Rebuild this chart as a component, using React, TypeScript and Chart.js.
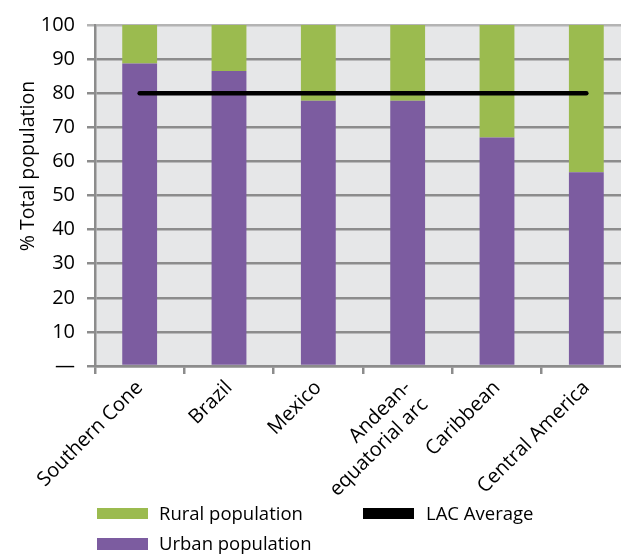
import React, { useEffect, useRef } from 'react';
import { Chart, registerables } from 'chart.js';

Chart.register(...registerables);

// Regions of Latin America and the Caribbean
const regions: (string | string[])[] = [
  'Southern Cone',
  'Brazil',
  'Mexico',
  ['Andean-', 'equatorial arc'],
  'Caribbean',
  'Central America',
];

// Share of total population (%)
const urbanShare = [88.7, 86.5, 77.8, 77.8, 67.0, 56.8];
const ruralShare = [11.3, 13.5, 22.2, 22.2, 33.0, 43.2];
const lacAverage = [80, 80, 80, 80, 80, 80];

const Y_TITLE = '% Total population';

const FONT = '"Open Sans", "Noto Sans", sans-serif';
const GREEN = '#9bbb4f';
const PURPLE = '#7c5ca0';
const GRID = '#8c8c8c';

// Fill the plotting area with a light grey panel
const panelBackground = {
  id: 'panelBackground',
  beforeDraw(chart: Chart) {
    const { ctx, chartArea } = chart;
    if (!chartArea) return;
    ctx.save();
    ctx.fillStyle = '#e6e7e8';
    ctx.fillRect(chartArea.left, chartArea.top, chartArea.right - chartArea.left, chartArea.bottom - chartArea.top);
    ctx.restore();
  },
};

// Vertical axis title, set a little above the middle of the axis
const yAxisTitle = {
  id: 'yAxisTitle',
  afterDraw(chart: Chart) {
    const { ctx } = chart;
    ctx.save();
    ctx.translate(34, 166);
    ctx.rotate(-Math.PI / 2);
    ctx.font = `19.5px ${FONT}`;
    ctx.fillStyle = '#000000';
    ctx.textAlign = 'center';
    ctx.textBaseline = 'alphabetic';
    ctx.fillText(Y_TITLE, 0, 0);
    ctx.restore();
  },
};

function PopulationChart() {
  const canvasRef = useRef<HTMLCanvasElement | null>(null);

  useEffect(() => {
    if (!canvasRef.current) return;
    const chart = new Chart(canvasRef.current, {
      type: 'bar',
      data: {
        labels: regions,
        datasets: [
          {
            type: 'line',
            label: 'LAC Average',
            data: lacAverage,
            borderColor: '#000000',
            backgroundColor: '#000000',
            borderWidth: 4.5,
            borderCapStyle: 'round',
            pointRadius: 0,
            stack: 'average',
            order: 0,
          },
          {
            label: 'Urban population',
            data: urbanShare,
            backgroundColor: PURPLE,
            borderWidth: 0,
            stack: 'population',
            order: 1,
          },
          {
            label: 'Rural population',
            data: ruralShare,
            backgroundColor: GREEN,
            borderWidth: 0,
            stack: 'population',
            order: 1,
          },
        ],
      } as any,
      options: {
        animation: false,
        responsive: false,
        maintainAspectRatio: false,
        layout: { padding: { top: 25, right: 9, bottom: 0, left: 0 } },
        datasets: {
          bar: { barPercentage: 0.39, categoryPercentage: 1 },
        },
        plugins: {
          legend: { display: false },
          tooltip: { enabled: false },
        },
        scales: {
          x: {
            stacked: true,
            offset: true,
            afterFit(scale: any) {
              scale.height = 554 - 366;
            },
            grid: {
              offset: true,
              drawOnChartArea: false,
              drawTicks: true,
              tickLength: 8,
              color: GRID,
              lineWidth: 2.5,
            },
            border: { display: true, color: GRID, width: 2.5 },
            ticks: {
              color: '#000000',
              font: { family: FONT, size: 20 },
              minRotation: 45,
              maxRotation: 45,
              padding: 2,
              autoSkip: false,
            },
          },
          y: {
            stacked: true,
            min: 0,
            max: 100,
            afterFit(scale: any) {
              scale.width = 95;
            },
            grid: {
              color: (ctx: any) => (ctx.tick && ctx.tick.value === 100 ? '#b4b4b4' : GRID),
              lineWidth: 2.5,
              tickLength: 8,
            },
            border: { display: true, color: GRID, width: 2.5 },
            ticks: {
              stepSize: 10,
              color: '#000000',
              padding: 12,
              font: { family: FONT, size: 20 },
              callback: (v: any) => (Number(v) === 0 ? '\u2014' : String(v)),
            },
            title: { display: false },
          },
        },
      } as any,
      plugins: [panelBackground, yAxisTitle],
    });
    return () => chart.destroy();
  }, []);

  const legendText: React.CSSProperties = {
    position: 'absolute',
    fontFamily: FONT,
    fontSize: 18.5,
    lineHeight: '20px',
    color: '#000000',
    whiteSpace: 'nowrap',
  };
  const box = (left: number, top: number, w: number, h: number, color: string): React.CSSProperties => ({
    position: 'absolute',
    left,
    top,
    width: w,
    height: h,
    background: color,
  });

  return (
    <div
      style={{
        position: 'fixed',
        left: 0,
        top: 0,
        width: 621,
        height: 554,
        overflow: 'hidden',
        background: '#ffffff',
      }}
    >
      <canvas ref={canvasRef} width={640} height={554} style={{ width: 640, height: 554, display: 'block' }} />
      <div style={box(97, 508, 51, 11, GREEN)} />
      <div style={{ ...legendText, left: 159, top: 503 }}>Rural population</div>
      <div style={box(363, 508, 51, 11, '#000000')} />
      <div style={{ ...legendText, left: 426, top: 503 }}>LAC Average</div>
      <div style={box(97, 538, 51, 12, PURPLE)} />
      <div style={{ ...legendText, left: 159, top: 533 }}>Urban population</div>
    </div>
  );
}

export default function App() {
  return <PopulationChart />;
}
